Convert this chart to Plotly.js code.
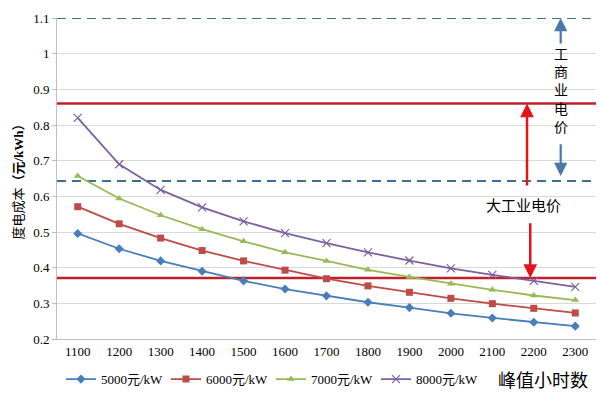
<!DOCTYPE html>
<html>
<head>
<meta charset="utf-8">
<script src="https://cdn.plot.ly/plotly-3.0.1.min.js"></script>
<style>html,body{margin:0;padding:0;background:#fff;}#chart{width:600px;height:393px;}</style>
</head>
<body>
<div id="chart"></div>
<script>
const hours = ['1100','1200','1300','1400','1500','1600','1700','1800','1900','2000','2100','2200','2300'];
const seriesNames = ['5000元/kW','6000元/kW','7000元/kW','8000元/kW'];
const cost5000 = [0.496,0.453,0.419,0.390,0.363,0.340,0.321,0.303,0.288,0.272,0.259,0.247,0.236];
const cost6000 = [0.571,0.523,0.483,0.448,0.419,0.393,0.369,0.349,0.331,0.314,0.299,0.286,0.273];
const cost7000 = [0.657,0.594,0.547,0.508,0.474,0.443,0.419,0.394,0.374,0.355,0.338,0.322,0.309];
const cost8000 = [0.820,0.690,0.618,0.569,0.530,0.497,0.469,0.443,0.420,0.398,0.380,0.363,0.346];
const commercialPrice = [1.1, 0.643];   // 工商业电价 range
const industrialPrice = [0.86, 0.371];  // 大工业电价 range
const yTicks = [0.2,0.3,0.4,0.5,0.6,0.7,0.8,0.9,1,1.1];

const colors = ['#4a7ebb','#be4b48','#98b954','#7d60a0'];
const symbols = ['diamond','square','triangle-up','x-thin'];
const allCosts = [cost5000, cost6000, cost7000, cost8000];

const serif = 'Liberation Serif, Times New Roman, Noto Sans CJK SC, serif';
const cjk = 'Noto Sans CJK SC, sans-serif';

const traces = allCosts.map((vals, i) => ({
  type: 'scatter', mode: 'lines+markers',
  x: hours, y: vals, name: seriesNames[i],
  line: {color: colors[i], width: 1.8},
  marker: {symbol: symbols[i], size: i === 3 ? 8 : 7, color: colors[i],
           line: {color: colors[i], width: i === 3 ? 1.2 : 0}}
}));

const shapes = [];
commercialPrice.forEach(v => shapes.push({
  type: 'line', xref: 'paper', x0: 0, x1: 1, yref: 'y', y0: v, y1: v,
  line: {color: '#3f6f94', width: 2, dash: '9px,6px'}, layer: 'between'
}));
industrialPrice.forEach(v => shapes.push({
  type: 'line', xref: 'paper', x0: 0, x1: 1, yref: 'y', y0: v, y1: v,
  line: {color: '#c0202a', width: 2.5}, layer: 'between'
}));

const blueX = 0.9345, redX = 0.872;
const annotations = [
  {xref: 'paper', x: blueX, yref: 'y', y: commercialPrice[0], ax: 0, ayref: 'y', ay: 1.024,
   showarrow: true, arrowhead: 2, arrowsize: 1.2, arrowwidth: 2.2, arrowcolor: '#4a78a8', text: '', standoff: 0},
  {xref: 'paper', x: blueX, yref: 'y', y: 0.657, ax: 0, ayref: 'y', ay: 0.750,
   showarrow: true, arrowhead: 2, arrowsize: 1.2, arrowwidth: 2.2, arrowcolor: '#4a78a8', text: '', standoff: 0},
  {xref: 'paper', x: blueX, xanchor: 'center', yref: 'y', y: 0.90, yanchor: 'middle',
   text: '工<br>商<br>业<br>电<br>价',
   showarrow: false, font: {family: cjk, size: 14, color: '#000'}},
  {xref: 'paper', x: redX, yref: 'y', y: industrialPrice[0], ax: 0, ayref: 'y', ay: 0.626,
   showarrow: true, arrowhead: 2, arrowsize: 1.1, arrowwidth: 2.5, arrowcolor: '#e3141b', text: '', standoff: 0},
  {xref: 'paper', x: redX + 0.006, yref: 'y', y: industrialPrice[1], ax: 0, ayref: 'y', ay: 0.529,
   showarrow: true, arrowhead: 2, arrowsize: 1.1, arrowwidth: 2.5, arrowcolor: '#e3141b', text: '', standoff: 0},
  {xref: 'paper', x: 0.866, xanchor: 'center', yref: 'y', y: 0.578, yanchor: 'middle', text: '大工业电价',
   showarrow: false, font: {family: cjk, size: 15, color: '#000'}},
  {xref: 'paper', x: 0.902, xanchor: 'center', yref: 'paper', y: -0.125, yanchor: 'middle', text: '峰值小时数',
   showarrow: false, font: {family: cjk, size: 18, color: '#000'}}
];

const layout = {
  width: 600, height: 393,
  margin: {l: 57, r: 4, t: 18, b: 54, autoexpand: false},
  paper_bgcolor: '#fff', plot_bgcolor: '#fff',
  showlegend: true,
  legend: {orientation: 'h', x: 0.0074, xanchor: 'left', y: -0.125, yanchor: 'middle',
           font: {family: serif, size: 13, color: '#000'},
           entrywidth: 60, entrywidthmode: 'pixels', itemwidth: 30, tracegroupgap: 0},
  xaxis: {type: 'category', range: [-0.5, 12.5], showgrid: false, showline: true, linecolor: '#bfbfbf',
          linewidth: 1, ticks: '', tickfont: {family: serif, size: 13, color: '#000'}, fixedrange: true},
  yaxis: {range: [0.2, 1.1], tickvals: yTicks, ticktext: yTicks.map(v => String(v)),
          showgrid: true, gridcolor: '#d9d9d9', gridwidth: 1, showline: true, linecolor: '#bfbfbf',
          ticks: 'outside', ticklen: 4, tickcolor: '#bfbfbf', zeroline: false,
          tickfont: {family: serif, size: 13, color: '#000'},
          title: {text: '度电成本<b>（元/kWh）</b>', font: {family: serif, size: 13, color: '#000'}, standoff: 6}},
  shapes: shapes,
  annotations: annotations
};

Plotly.newPlot('chart', traces, layout, {displayModeBar: false, staticPlot: true});
</script>
</body>
</html>
